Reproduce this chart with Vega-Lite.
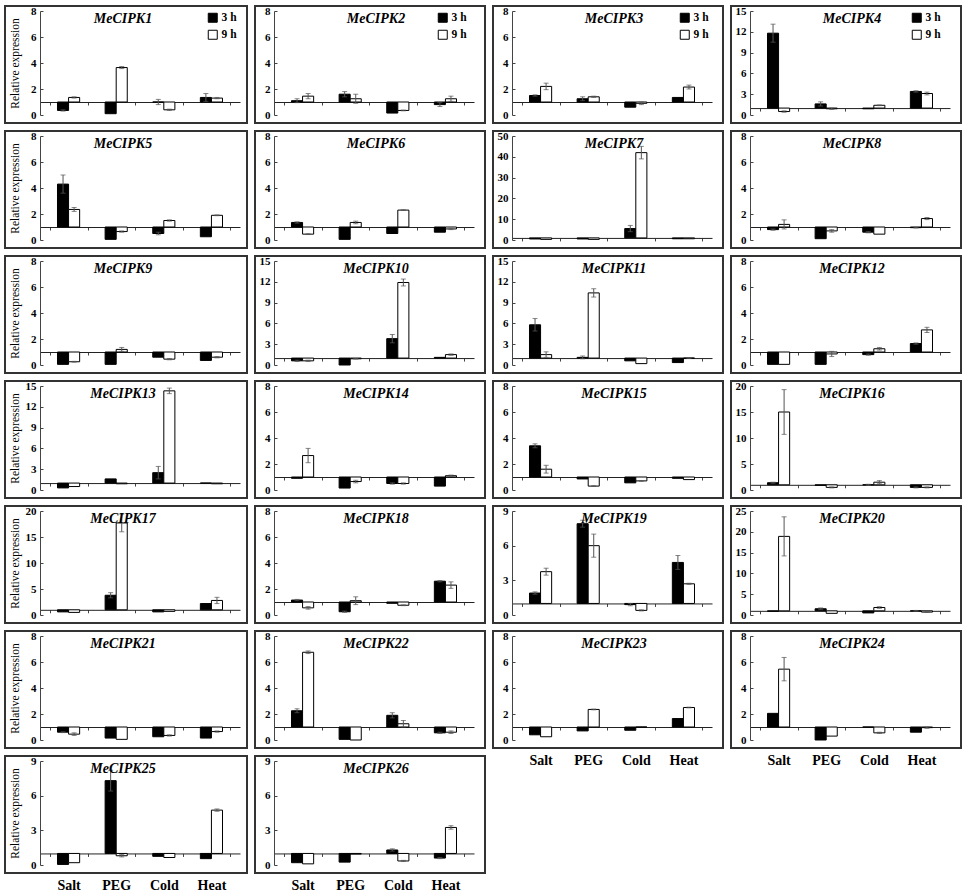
{
"$schema": "https://vega.github.io/schema/vega-lite/v6.json",
"background": "white",
"padding": {"left": 4, "top": 4, "right": 0, "bottom": 0},
"datasets": {"d": [
{"g":"MeCIPK1","t":"Salt","h":"3 h","v":0.35,"lo":0.3,"hi":0.4},
{"g":"MeCIPK1","t":"Salt","h":"9 h","v":1.35,"lo":1.3,"hi":1.4},
{"g":"MeCIPK1","t":"PEG","h":"3 h","v":0.1},
{"g":"MeCIPK1","t":"PEG","h":"9 h","v":3.65,"lo":3.57,"hi":3.73},
{"g":"MeCIPK1","t":"Cold","h":"3 h","v":1.0,"lo":0.8,"hi":1.2},
{"g":"MeCIPK1","t":"Cold","h":"9 h","v":0.4,"lo":0.35,"hi":0.45},
{"g":"MeCIPK1","t":"Heat","h":"3 h","v":1.35,"lo":1.05,"hi":1.65},
{"g":"MeCIPK1","t":"Heat","h":"9 h","v":1.3,"lo":1.25,"hi":1.35},
{"g":"MeCIPK2","t":"Salt","h":"3 h","v":1.1,"lo":0.95,"hi":1.25},
{"g":"MeCIPK2","t":"Salt","h":"9 h","v":1.45,"lo":1.25,"hi":1.65},
{"g":"MeCIPK2","t":"PEG","h":"3 h","v":1.6,"lo":1.4,"hi":1.8},
{"g":"MeCIPK2","t":"PEG","h":"9 h","v":1.25,"lo":0.9,"hi":1.6},
{"g":"MeCIPK2","t":"Cold","h":"3 h","v":0.15},
{"g":"MeCIPK2","t":"Cold","h":"9 h","v":0.35,"lo":0.32,"hi":0.38},
{"g":"MeCIPK2","t":"Heat","h":"3 h","v":0.8,"lo":0.65,"hi":0.95},
{"g":"MeCIPK2","t":"Heat","h":"9 h","v":1.25,"lo":1.05,"hi":1.45},
{"g":"MeCIPK3","t":"Salt","h":"3 h","v":1.5,"lo":1.45,"hi":1.55},
{"g":"MeCIPK3","t":"Salt","h":"9 h","v":2.2,"lo":1.95,"hi":2.45},
{"g":"MeCIPK3","t":"PEG","h":"3 h","v":1.25,"lo":1.1,"hi":1.4},
{"g":"MeCIPK3","t":"PEG","h":"9 h","v":1.4,"lo":1.35,"hi":1.45},
{"g":"MeCIPK3","t":"Cold","h":"3 h","v":0.6},
{"g":"MeCIPK3","t":"Cold","h":"9 h","v":0.9,"lo":0.8,"hi":1.0},
{"g":"MeCIPK3","t":"Heat","h":"3 h","v":1.35},
{"g":"MeCIPK3","t":"Heat","h":"9 h","v":2.15,"lo":2.0,"hi":2.3},
{"g":"MeCIPK4","t":"Salt","h":"3 h","v":11.8,"lo":10.5,"hi":13.1},
{"g":"MeCIPK4","t":"Salt","h":"9 h","v":0.5,"lo":0.4,"hi":0.6},
{"g":"MeCIPK4","t":"PEG","h":"3 h","v":1.6,"lo":1.3,"hi":1.9},
{"g":"MeCIPK4","t":"PEG","h":"9 h","v":0.9,"lo":0.8,"hi":1.0},
{"g":"MeCIPK4","t":"Cold","h":"3 h","v":0.9},
{"g":"MeCIPK4","t":"Cold","h":"9 h","v":1.4,"lo":1.35,"hi":1.45},
{"g":"MeCIPK4","t":"Heat","h":"3 h","v":3.4,"lo":3.3,"hi":3.5},
{"g":"MeCIPK4","t":"Heat","h":"9 h","v":3.1,"lo":2.9,"hi":3.3},
{"g":"MeCIPK5","t":"Salt","h":"3 h","v":4.3,"lo":3.6,"hi":5.0},
{"g":"MeCIPK5","t":"Salt","h":"9 h","v":2.35,"lo":2.2,"hi":2.5},
{"g":"MeCIPK5","t":"PEG","h":"3 h","v":0.05},
{"g":"MeCIPK5","t":"PEG","h":"9 h","v":0.65,"lo":0.6,"hi":0.7},
{"g":"MeCIPK5","t":"Cold","h":"3 h","v":0.5,"lo":0.4,"hi":0.6},
{"g":"MeCIPK5","t":"Cold","h":"9 h","v":1.5,"lo":1.45,"hi":1.55},
{"g":"MeCIPK5","t":"Heat","h":"3 h","v":0.25},
{"g":"MeCIPK5","t":"Heat","h":"9 h","v":1.9,"lo":1.87,"hi":1.93},
{"g":"MeCIPK6","t":"Salt","h":"3 h","v":1.35,"lo":1.3,"hi":1.4},
{"g":"MeCIPK6","t":"Salt","h":"9 h","v":0.45,"lo":0.42,"hi":0.48},
{"g":"MeCIPK6","t":"PEG","h":"3 h","v":0.05},
{"g":"MeCIPK6","t":"PEG","h":"9 h","v":1.35,"lo":1.25,"hi":1.45},
{"g":"MeCIPK6","t":"Cold","h":"3 h","v":0.5},
{"g":"MeCIPK6","t":"Cold","h":"9 h","v":2.3,"lo":2.27,"hi":2.33},
{"g":"MeCIPK6","t":"Heat","h":"3 h","v":0.6},
{"g":"MeCIPK6","t":"Heat","h":"9 h","v":0.85,"lo":0.8,"hi":0.9},
{"g":"MeCIPK7","t":"Salt","h":"3 h","v":0.5},
{"g":"MeCIPK7","t":"Salt","h":"9 h","v":0.3},
{"g":"MeCIPK7","t":"PEG","h":"3 h","v":0.5},
{"g":"MeCIPK7","t":"PEG","h":"9 h","v":0.3},
{"g":"MeCIPK7","t":"Cold","h":"3 h","v":5.5,"lo":4.0,"hi":7.0},
{"g":"MeCIPK7","t":"Cold","h":"9 h","v":42,"lo":39,"hi":45},
{"g":"MeCIPK7","t":"Heat","h":"3 h","v":0.6},
{"g":"MeCIPK7","t":"Heat","h":"9 h","v":0.6},
{"g":"MeCIPK8","t":"Salt","h":"3 h","v":0.8,"lo":0.75,"hi":0.85},
{"g":"MeCIPK8","t":"Salt","h":"9 h","v":1.2,"lo":0.85,"hi":1.55},
{"g":"MeCIPK8","t":"PEG","h":"3 h","v":0.1},
{"g":"MeCIPK8","t":"PEG","h":"9 h","v":0.7,"lo":0.6,"hi":0.8},
{"g":"MeCIPK8","t":"Cold","h":"3 h","v":0.6,"lo":0.55,"hi":0.65},
{"g":"MeCIPK8","t":"Cold","h":"9 h","v":0.45},
{"g":"MeCIPK8","t":"Heat","h":"3 h","v":0.95,"lo":0.92,"hi":0.98},
{"g":"MeCIPK8","t":"Heat","h":"9 h","v":1.65,"lo":1.57,"hi":1.73},
{"g":"MeCIPK9","t":"Salt","h":"3 h","v":0.05},
{"g":"MeCIPK9","t":"Salt","h":"9 h","v":0.25,"lo":0.22,"hi":0.28},
{"g":"MeCIPK9","t":"PEG","h":"3 h","v":0.05},
{"g":"MeCIPK9","t":"PEG","h":"9 h","v":1.2,"lo":1.05,"hi":1.35},
{"g":"MeCIPK9","t":"Cold","h":"3 h","v":0.6},
{"g":"MeCIPK9","t":"Cold","h":"9 h","v":0.45,"lo":0.4,"hi":0.5},
{"g":"MeCIPK9","t":"Heat","h":"3 h","v":0.35},
{"g":"MeCIPK9","t":"Heat","h":"9 h","v":0.6,"lo":0.55,"hi":0.65},
{"g":"MeCIPK10","t":"Salt","h":"3 h","v":0.6,"lo":0.5,"hi":0.7},
{"g":"MeCIPK10","t":"Salt","h":"9 h","v":0.6,"lo":0.5,"hi":0.7},
{"g":"MeCIPK10","t":"PEG","h":"3 h","v":0.0},
{"g":"MeCIPK10","t":"PEG","h":"9 h","v":0.9,"lo":0.85,"hi":0.95},
{"g":"MeCIPK10","t":"Cold","h":"3 h","v":3.8,"lo":3.2,"hi":4.4},
{"g":"MeCIPK10","t":"Cold","h":"9 h","v":11.9,"lo":11.4,"hi":12.4},
{"g":"MeCIPK10","t":"Heat","h":"3 h","v":1.1},
{"g":"MeCIPK10","t":"Heat","h":"9 h","v":1.5,"lo":1.4,"hi":1.6},
{"g":"MeCIPK11","t":"Salt","h":"3 h","v":5.8,"lo":4.9,"hi":6.7},
{"g":"MeCIPK11","t":"Salt","h":"9 h","v":1.5,"lo":1.1,"hi":1.9},
{"g":"MeCIPK11","t":"PEG","h":"3 h","v":1.1,"lo":0.9,"hi":1.3},
{"g":"MeCIPK11","t":"PEG","h":"9 h","v":10.4,"lo":9.8,"hi":11.0},
{"g":"MeCIPK11","t":"Cold","h":"3 h","v":0.6},
{"g":"MeCIPK11","t":"Cold","h":"9 h","v":0.2},
{"g":"MeCIPK11","t":"Heat","h":"3 h","v":0.35},
{"g":"MeCIPK11","t":"Heat","h":"9 h","v":1.0,"lo":0.95,"hi":1.05},
{"g":"MeCIPK12","t":"Salt","h":"3 h","v":0.05},
{"g":"MeCIPK12","t":"Salt","h":"9 h","v":0.05},
{"g":"MeCIPK12","t":"PEG","h":"3 h","v":0.05},
{"g":"MeCIPK12","t":"PEG","h":"9 h","v":0.85,"lo":0.65,"hi":1.05},
{"g":"MeCIPK12","t":"Cold","h":"3 h","v":0.8,"lo":0.75,"hi":0.85},
{"g":"MeCIPK12","t":"Cold","h":"9 h","v":1.25,"lo":1.15,"hi":1.35},
{"g":"MeCIPK12","t":"Heat","h":"3 h","v":1.65,"lo":1.6,"hi":1.7},
{"g":"MeCIPK12","t":"Heat","h":"9 h","v":2.7,"lo":2.5,"hi":2.9},
{"g":"MeCIPK13","t":"Salt","h":"3 h","v":0.3},
{"g":"MeCIPK13","t":"Salt","h":"9 h","v":0.5},
{"g":"MeCIPK13","t":"PEG","h":"3 h","v":1.6},
{"g":"MeCIPK13","t":"PEG","h":"9 h","v":0.9},
{"g":"MeCIPK13","t":"Cold","h":"3 h","v":2.5,"lo":1.6,"hi":3.4},
{"g":"MeCIPK13","t":"Cold","h":"9 h","v":14.3,"lo":13.9,"hi":14.7},
{"g":"MeCIPK13","t":"Heat","h":"3 h","v":1.0},
{"g":"MeCIPK13","t":"Heat","h":"9 h","v":0.9},
{"g":"MeCIPK14","t":"Salt","h":"3 h","v":0.9},
{"g":"MeCIPK14","t":"Salt","h":"9 h","v":2.65,"lo":2.1,"hi":3.2},
{"g":"MeCIPK14","t":"PEG","h":"3 h","v":0.15},
{"g":"MeCIPK14","t":"PEG","h":"9 h","v":0.65,"lo":0.55,"hi":0.75},
{"g":"MeCIPK14","t":"Cold","h":"3 h","v":0.5,"lo":0.45,"hi":0.55},
{"g":"MeCIPK14","t":"Cold","h":"9 h","v":0.5,"lo":0.45,"hi":0.55},
{"g":"MeCIPK14","t":"Heat","h":"3 h","v":0.3},
{"g":"MeCIPK14","t":"Heat","h":"9 h","v":1.1,"lo":1.05,"hi":1.15},
{"g":"MeCIPK15","t":"Salt","h":"3 h","v":3.4,"lo":3.25,"hi":3.55},
{"g":"MeCIPK15","t":"Salt","h":"9 h","v":1.6,"lo":1.3,"hi":1.9},
{"g":"MeCIPK15","t":"PEG","h":"3 h","v":0.85},
{"g":"MeCIPK15","t":"PEG","h":"9 h","v":0.3,"lo":0.27,"hi":0.33},
{"g":"MeCIPK15","t":"Cold","h":"3 h","v":0.55},
{"g":"MeCIPK15","t":"Cold","h":"9 h","v":0.7,"lo":0.67,"hi":0.73},
{"g":"MeCIPK15","t":"Heat","h":"3 h","v":0.9},
{"g":"MeCIPK15","t":"Heat","h":"9 h","v":0.8},
{"g":"MeCIPK16","t":"Salt","h":"3 h","v":1.4,"lo":1.3,"hi":1.5},
{"g":"MeCIPK16","t":"Salt","h":"9 h","v":15,"lo":10.7,"hi":19.3},
{"g":"MeCIPK16","t":"PEG","h":"3 h","v":0.9},
{"g":"MeCIPK16","t":"PEG","h":"9 h","v":0.5,"lo":0.4,"hi":0.6},
{"g":"MeCIPK16","t":"Cold","h":"3 h","v":1.0,"lo":0.9,"hi":1.1},
{"g":"MeCIPK16","t":"Cold","h":"9 h","v":1.5,"lo":1.2,"hi":1.8},
{"g":"MeCIPK16","t":"Heat","h":"3 h","v":0.5,"lo":0.4,"hi":0.6},
{"g":"MeCIPK16","t":"Heat","h":"9 h","v":0.5,"lo":0.4,"hi":0.6},
{"g":"MeCIPK17","t":"Salt","h":"3 h","v":0.6},
{"g":"MeCIPK17","t":"Salt","h":"9 h","v":0.5},
{"g":"MeCIPK17","t":"PEG","h":"3 h","v":3.8,"lo":3.3,"hi":4.3},
{"g":"MeCIPK17","t":"PEG","h":"9 h","v":17.7,"lo":16.0,"hi":19.4},
{"g":"MeCIPK17","t":"Cold","h":"3 h","v":0.6},
{"g":"MeCIPK17","t":"Cold","h":"9 h","v":0.7},
{"g":"MeCIPK17","t":"Heat","h":"3 h","v":2.2},
{"g":"MeCIPK17","t":"Heat","h":"9 h","v":2.8,"lo":2.2,"hi":3.4},
{"g":"MeCIPK18","t":"Salt","h":"3 h","v":1.15,"lo":1.1,"hi":1.2},
{"g":"MeCIPK18","t":"Salt","h":"9 h","v":0.55,"lo":0.45,"hi":0.65},
{"g":"MeCIPK18","t":"PEG","h":"3 h","v":0.25,"lo":0.2,"hi":0.3},
{"g":"MeCIPK18","t":"PEG","h":"9 h","v":1.1,"lo":0.8,"hi":1.4},
{"g":"MeCIPK18","t":"Cold","h":"3 h","v":0.9},
{"g":"MeCIPK18","t":"Cold","h":"9 h","v":0.75,"lo":0.72,"hi":0.78},
{"g":"MeCIPK18","t":"Heat","h":"3 h","v":2.6,"lo":2.55,"hi":2.65},
{"g":"MeCIPK18","t":"Heat","h":"9 h","v":2.3,"lo":2.05,"hi":2.55},
{"g":"MeCIPK19","t":"Salt","h":"3 h","v":1.9,"lo":1.8,"hi":2.0},
{"g":"MeCIPK19","t":"Salt","h":"9 h","v":3.75,"lo":3.45,"hi":4.05},
{"g":"MeCIPK19","t":"PEG","h":"3 h","v":7.9,"lo":7.6,"hi":8.2},
{"g":"MeCIPK19","t":"PEG","h":"9 h","v":6.0,"lo":5.0,"hi":7.0},
{"g":"MeCIPK19","t":"Cold","h":"3 h","v":0.9,"lo":0.8,"hi":1.0},
{"g":"MeCIPK19","t":"Cold","h":"9 h","v":0.4,"lo":0.35,"hi":0.45},
{"g":"MeCIPK19","t":"Heat","h":"3 h","v":4.55,"lo":3.95,"hi":5.15},
{"g":"MeCIPK19","t":"Heat","h":"9 h","v":2.7,"lo":2.65,"hi":2.75},
{"g":"MeCIPK20","t":"Salt","h":"3 h","v":0.9},
{"g":"MeCIPK20","t":"Salt","h":"9 h","v":18.9,"lo":14.2,"hi":23.6},
{"g":"MeCIPK20","t":"PEG","h":"3 h","v":1.5,"lo":1.3,"hi":1.7},
{"g":"MeCIPK20","t":"PEG","h":"9 h","v":0.4},
{"g":"MeCIPK20","t":"Cold","h":"3 h","v":0.5},
{"g":"MeCIPK20","t":"Cold","h":"9 h","v":1.8,"lo":1.6,"hi":2.0},
{"g":"MeCIPK20","t":"Heat","h":"3 h","v":1.0,"lo":0.9,"hi":1.1},
{"g":"MeCIPK20","t":"Heat","h":"9 h","v":0.7,"lo":0.6,"hi":0.8},
{"g":"MeCIPK21","t":"Salt","h":"3 h","v":0.6,"lo":0.57,"hi":0.63},
{"g":"MeCIPK21","t":"Salt","h":"9 h","v":0.45,"lo":0.35,"hi":0.55},
{"g":"MeCIPK21","t":"PEG","h":"3 h","v":0.15},
{"g":"MeCIPK21","t":"PEG","h":"9 h","v":0.05},
{"g":"MeCIPK21","t":"Cold","h":"3 h","v":0.25},
{"g":"MeCIPK21","t":"Cold","h":"9 h","v":0.35,"lo":0.3,"hi":0.4},
{"g":"MeCIPK21","t":"Heat","h":"3 h","v":0.15},
{"g":"MeCIPK21","t":"Heat","h":"9 h","v":0.65,"lo":0.6,"hi":0.7},
{"g":"MeCIPK22","t":"Salt","h":"3 h","v":2.25,"lo":2.1,"hi":2.4},
{"g":"MeCIPK22","t":"Salt","h":"9 h","v":6.75,"lo":6.65,"hi":6.85},
{"g":"MeCIPK22","t":"PEG","h":"3 h","v":0.05},
{"g":"MeCIPK22","t":"PEG","h":"9 h","v":0.0},
{"g":"MeCIPK22","t":"Cold","h":"3 h","v":1.9,"lo":1.7,"hi":2.1},
{"g":"MeCIPK22","t":"Cold","h":"9 h","v":1.25,"lo":1.0,"hi":1.5},
{"g":"MeCIPK22","t":"Heat","h":"3 h","v":0.55,"lo":0.5,"hi":0.6},
{"g":"MeCIPK22","t":"Heat","h":"9 h","v":0.6,"lo":0.5,"hi":0.7},
{"g":"MeCIPK23","t":"Salt","h":"3 h","v":0.4},
{"g":"MeCIPK23","t":"Salt","h":"9 h","v":0.25},
{"g":"MeCIPK23","t":"PEG","h":"3 h","v":0.7},
{"g":"MeCIPK23","t":"PEG","h":"9 h","v":2.35,"lo":2.32,"hi":2.38},
{"g":"MeCIPK23","t":"Cold","h":"3 h","v":0.75},
{"g":"MeCIPK23","t":"Cold","h":"9 h","v":1.0},
{"g":"MeCIPK23","t":"Heat","h":"3 h","v":1.65},
{"g":"MeCIPK23","t":"Heat","h":"9 h","v":2.5,"lo":2.47,"hi":2.53},
{"g":"MeCIPK24","t":"Salt","h":"3 h","v":2.05},
{"g":"MeCIPK24","t":"Salt","h":"9 h","v":5.45,"lo":4.55,"hi":6.35},
{"g":"MeCIPK24","t":"PEG","h":"3 h","v":0.0},
{"g":"MeCIPK24","t":"PEG","h":"9 h","v":0.3},
{"g":"MeCIPK24","t":"Cold","h":"3 h","v":1.0},
{"g":"MeCIPK24","t":"Cold","h":"9 h","v":0.55,"lo":0.5,"hi":0.6},
{"g":"MeCIPK24","t":"Heat","h":"3 h","v":0.6},
{"g":"MeCIPK24","t":"Heat","h":"9 h","v":0.95,"lo":0.9,"hi":1.0},
{"g":"MeCIPK25","t":"Salt","h":"3 h","v":0.05},
{"g":"MeCIPK25","t":"Salt","h":"9 h","v":0.2},
{"g":"MeCIPK25","t":"PEG","h":"3 h","v":7.3,"lo":6.4,"hi":8.2},
{"g":"MeCIPK25","t":"PEG","h":"9 h","v":0.8,"lo":0.7,"hi":0.9},
{"g":"MeCIPK25","t":"Cold","h":"3 h","v":0.75},
{"g":"MeCIPK25","t":"Cold","h":"9 h","v":0.65},
{"g":"MeCIPK25","t":"Heat","h":"3 h","v":0.55},
{"g":"MeCIPK25","t":"Heat","h":"9 h","v":4.75,"lo":4.65,"hi":4.85},
{"g":"MeCIPK26","t":"Salt","h":"3 h","v":0.2},
{"g":"MeCIPK26","t":"Salt","h":"9 h","v":0.1},
{"g":"MeCIPK26","t":"PEG","h":"3 h","v":0.25},
{"g":"MeCIPK26","t":"PEG","h":"9 h","v":0.95},
{"g":"MeCIPK26","t":"Cold","h":"3 h","v":1.3,"lo":1.2,"hi":1.4},
{"g":"MeCIPK26","t":"Cold","h":"9 h","v":0.35,"lo":0.3,"hi":0.4},
{"g":"MeCIPK26","t":"Heat","h":"3 h","v":0.6,"lo":0.55,"hi":0.65},
{"g":"MeCIPK26","t":"Heat","h":"9 h","v":3.25,"lo":3.1,"hi":3.4}
]},
"data": {"name": "d"},
"columns": 4,
"spacing": {"row": 8, "column": 8},
"bounds": "flush",
"align": "each",
"resolve": {"scale": {"fill": "independent"}, "legend": {"fill": "independent"}},
"concat": [
{"title":{"text":"MeCIPK1","dx":-3},"width":242,"height":117,"transform":[{"filter":"datum.g==='MeCIPK1'"}],
 "encoding":{"x":{"field":"t","type":"nominal","scale":{"domain":["Salt","PEG","Cold","Heat"],"range":[35,235]},"axis":{"title":null,"offset":-21}},
  "xOffset":{"field":"h","type":"nominal","scale":{"domain":["3 h","9 h"],"paddingInner":0,"paddingOuter":0.72}},
  "y":{"type":"quantitative","scale":{"domain":[0,8],"range":[109,5],"nice":false},"axis":{"values":[0,2,4,6,8],"offset":-35,"title":"Relative expression","titleX":-20,"titleY":57}}},
 "layer":[
  {"mark":{"type":"bar","stroke":"#000","strokeWidth":1},"encoding":{"y":{"field":"v"},"y2":{"datum":1},"fill":{"field":"h","type":"nominal","scale":{"domain":["3 h","9 h"],"range":["#000","#fff"]},"legend":{"legendX":202}}}},
  {"mark":{"type":"rule","color":"#555"},"encoding":{"y":{"field":"lo"},"y2":{"field":"hi"}}},
  {"mark":{"type":"tick","color":"#555","size":5,"thickness":1},"encoding":{"y":{"field":"lo"}}},
  {"mark":{"type":"tick","color":"#555","size":5,"thickness":1},"encoding":{"y":{"field":"hi"}}}
 ]},
{"title":"MeCIPK2","width":230,"height":117,"transform":[{"filter":"datum.g==='MeCIPK2'"}],
 "encoding":{"x":{"field":"t","type":"nominal","scale":{"domain":["Salt","PEG","Cold","Heat"],"range":[19,219]},"axis":{"title":null,"offset":-21}},
  "xOffset":{"field":"h","type":"nominal","scale":{"domain":["3 h","9 h"],"paddingInner":0,"paddingOuter":0.72}},
  "y":{"type":"quantitative","scale":{"domain":[0,8],"range":[109,5],"nice":false},"axis":{"values":[0,2,4,6,8],"offset":-19,"title":null}}},
 "layer":[
  {"mark":{"type":"bar","stroke":"#000","strokeWidth":1},"encoding":{"y":{"field":"v"},"y2":{"datum":1},"fill":{"field":"h","type":"nominal","scale":{"domain":["3 h","9 h"],"range":["#000","#fff"]},"legend":{"legendX":182}}}},
  {"mark":{"type":"rule","color":"#555"},"encoding":{"y":{"field":"lo"},"y2":{"field":"hi"}}},
  {"mark":{"type":"tick","color":"#555","size":5,"thickness":1},"encoding":{"y":{"field":"lo"}}},
  {"mark":{"type":"tick","color":"#555","size":5,"thickness":1},"encoding":{"y":{"field":"hi"}}}
 ]},
{"title":"MeCIPK3","width":230,"height":117,"transform":[{"filter":"datum.g==='MeCIPK3'"}],
 "encoding":{"x":{"field":"t","type":"nominal","scale":{"domain":["Salt","PEG","Cold","Heat"],"range":[19,219]},"axis":{"title":null,"offset":-21}},
  "xOffset":{"field":"h","type":"nominal","scale":{"domain":["3 h","9 h"],"paddingInner":0,"paddingOuter":0.72}},
  "y":{"type":"quantitative","scale":{"domain":[0,8],"range":[109,5],"nice":false},"axis":{"values":[0,2,4,6,8],"offset":-19,"title":null}}},
 "layer":[
  {"mark":{"type":"bar","stroke":"#000","strokeWidth":1},"encoding":{"y":{"field":"v"},"y2":{"datum":1},"fill":{"field":"h","type":"nominal","scale":{"domain":["3 h","9 h"],"range":["#000","#fff"]},"legend":{"legendX":186}}}},
  {"mark":{"type":"rule","color":"#555"},"encoding":{"y":{"field":"lo"},"y2":{"field":"hi"}}},
  {"mark":{"type":"tick","color":"#555","size":5,"thickness":1},"encoding":{"y":{"field":"lo"}}},
  {"mark":{"type":"tick","color":"#555","size":5,"thickness":1},"encoding":{"y":{"field":"hi"}}}
 ]},
{"title":"MeCIPK4","width":230,"height":117,"transform":[{"filter":"datum.g==='MeCIPK4'"}],
 "encoding":{"x":{"field":"t","type":"nominal","scale":{"domain":["Salt","PEG","Cold","Heat"],"range":[19,219]},"axis":{"title":null,"offset":-14.93}},
  "xOffset":{"field":"h","type":"nominal","scale":{"domain":["3 h","9 h"],"paddingInner":0,"paddingOuter":0.72}},
  "y":{"type":"quantitative","scale":{"domain":[0,15],"range":[109,5],"nice":false},"axis":{"values":[0,3,6,9,12,15],"offset":-19,"title":null}}},
 "layer":[
  {"mark":{"type":"bar","stroke":"#000","strokeWidth":1},"encoding":{"y":{"field":"v"},"y2":{"datum":1},"fill":{"field":"h","type":"nominal","scale":{"domain":["3 h","9 h"],"range":["#000","#fff"]},"legend":{"legendX":180}}}},
  {"mark":{"type":"rule","color":"#555"},"encoding":{"y":{"field":"lo"},"y2":{"field":"hi"}}},
  {"mark":{"type":"tick","color":"#555","size":5,"thickness":1},"encoding":{"y":{"field":"lo"}}},
  {"mark":{"type":"tick","color":"#555","size":5,"thickness":1},"encoding":{"y":{"field":"hi"}}}
 ]},
{"title":{"text":"MeCIPK5","dx":-3},"width":242,"height":117,"transform":[{"filter":"datum.g==='MeCIPK5'"}],
 "encoding":{"x":{"field":"t","type":"nominal","scale":{"domain":["Salt","PEG","Cold","Heat"],"range":[35,235]},"axis":{"title":null,"offset":-21}},
  "xOffset":{"field":"h","type":"nominal","scale":{"domain":["3 h","9 h"],"paddingInner":0,"paddingOuter":0.72}},
  "y":{"type":"quantitative","scale":{"domain":[0,8],"range":[109,5],"nice":false},"axis":{"values":[0,2,4,6,8],"offset":-35,"title":"Relative expression","titleX":-20,"titleY":57}}},
 "layer":[
  {"mark":{"type":"bar","stroke":"#000","strokeWidth":1},"encoding":{"y":{"field":"v"},"y2":{"datum":1},"fill":{"field":"h","type":"nominal","scale":{"domain":["3 h","9 h"],"range":["#000","#fff"]},"legend":null}}},
  {"mark":{"type":"rule","color":"#555"},"encoding":{"y":{"field":"lo"},"y2":{"field":"hi"}}},
  {"mark":{"type":"tick","color":"#555","size":5,"thickness":1},"encoding":{"y":{"field":"lo"}}},
  {"mark":{"type":"tick","color":"#555","size":5,"thickness":1},"encoding":{"y":{"field":"hi"}}}
 ]},
{"title":"MeCIPK6","width":230,"height":117,"transform":[{"filter":"datum.g==='MeCIPK6'"}],
 "encoding":{"x":{"field":"t","type":"nominal","scale":{"domain":["Salt","PEG","Cold","Heat"],"range":[19,219]},"axis":{"title":null,"offset":-21}},
  "xOffset":{"field":"h","type":"nominal","scale":{"domain":["3 h","9 h"],"paddingInner":0,"paddingOuter":0.72}},
  "y":{"type":"quantitative","scale":{"domain":[0,8],"range":[109,5],"nice":false},"axis":{"values":[0,2,4,6,8],"offset":-19,"title":null}}},
 "layer":[
  {"mark":{"type":"bar","stroke":"#000","strokeWidth":1},"encoding":{"y":{"field":"v"},"y2":{"datum":1},"fill":{"field":"h","type":"nominal","scale":{"domain":["3 h","9 h"],"range":["#000","#fff"]},"legend":null}}},
  {"mark":{"type":"rule","color":"#555"},"encoding":{"y":{"field":"lo"},"y2":{"field":"hi"}}},
  {"mark":{"type":"tick","color":"#555","size":5,"thickness":1},"encoding":{"y":{"field":"lo"}}},
  {"mark":{"type":"tick","color":"#555","size":5,"thickness":1},"encoding":{"y":{"field":"hi"}}}
 ]},
{"title":"MeCIPK7","width":230,"height":117,"transform":[{"filter":"datum.g==='MeCIPK7'"}],
 "encoding":{"x":{"field":"t","type":"nominal","scale":{"domain":["Salt","PEG","Cold","Heat"],"range":[19,219]},"axis":{"title":null,"offset":-10.08}},
  "xOffset":{"field":"h","type":"nominal","scale":{"domain":["3 h","9 h"],"paddingInner":0,"paddingOuter":0.72}},
  "y":{"type":"quantitative","scale":{"domain":[0,50],"range":[109,5],"nice":false},"axis":{"values":[0,10,20,30,40,50],"offset":-19,"title":null}}},
 "layer":[
  {"mark":{"type":"bar","stroke":"#000","strokeWidth":1},"encoding":{"y":{"field":"v"},"y2":{"datum":1},"fill":{"field":"h","type":"nominal","scale":{"domain":["3 h","9 h"],"range":["#000","#fff"]},"legend":null}}},
  {"mark":{"type":"rule","color":"#555"},"encoding":{"y":{"field":"lo"},"y2":{"field":"hi"}}},
  {"mark":{"type":"tick","color":"#555","size":5,"thickness":1},"encoding":{"y":{"field":"lo"}}},
  {"mark":{"type":"tick","color":"#555","size":5,"thickness":1},"encoding":{"y":{"field":"hi"}}}
 ]},
{"title":"MeCIPK8","width":230,"height":117,"transform":[{"filter":"datum.g==='MeCIPK8'"}],
 "encoding":{"x":{"field":"t","type":"nominal","scale":{"domain":["Salt","PEG","Cold","Heat"],"range":[19,219]},"axis":{"title":null,"offset":-21}},
  "xOffset":{"field":"h","type":"nominal","scale":{"domain":["3 h","9 h"],"paddingInner":0,"paddingOuter":0.72}},
  "y":{"type":"quantitative","scale":{"domain":[0,8],"range":[109,5],"nice":false},"axis":{"values":[0,2,4,6,8],"offset":-19,"title":null}}},
 "layer":[
  {"mark":{"type":"bar","stroke":"#000","strokeWidth":1},"encoding":{"y":{"field":"v"},"y2":{"datum":1},"fill":{"field":"h","type":"nominal","scale":{"domain":["3 h","9 h"],"range":["#000","#fff"]},"legend":null}}},
  {"mark":{"type":"rule","color":"#555"},"encoding":{"y":{"field":"lo"},"y2":{"field":"hi"}}},
  {"mark":{"type":"tick","color":"#555","size":5,"thickness":1},"encoding":{"y":{"field":"lo"}}},
  {"mark":{"type":"tick","color":"#555","size":5,"thickness":1},"encoding":{"y":{"field":"hi"}}}
 ]},
{"title":{"text":"MeCIPK9","dx":-3},"width":242,"height":117,"transform":[{"filter":"datum.g==='MeCIPK9'"}],
 "encoding":{"x":{"field":"t","type":"nominal","scale":{"domain":["Salt","PEG","Cold","Heat"],"range":[35,235]},"axis":{"title":null,"offset":-21}},
  "xOffset":{"field":"h","type":"nominal","scale":{"domain":["3 h","9 h"],"paddingInner":0,"paddingOuter":0.72}},
  "y":{"type":"quantitative","scale":{"domain":[0,8],"range":[109,5],"nice":false},"axis":{"values":[0,2,4,6,8],"offset":-35,"title":"Relative expression","titleX":-20,"titleY":57}}},
 "layer":[
  {"mark":{"type":"bar","stroke":"#000","strokeWidth":1},"encoding":{"y":{"field":"v"},"y2":{"datum":1},"fill":{"field":"h","type":"nominal","scale":{"domain":["3 h","9 h"],"range":["#000","#fff"]},"legend":null}}},
  {"mark":{"type":"rule","color":"#555"},"encoding":{"y":{"field":"lo"},"y2":{"field":"hi"}}},
  {"mark":{"type":"tick","color":"#555","size":5,"thickness":1},"encoding":{"y":{"field":"lo"}}},
  {"mark":{"type":"tick","color":"#555","size":5,"thickness":1},"encoding":{"y":{"field":"hi"}}}
 ]},
{"title":"MeCIPK10","width":230,"height":117,"transform":[{"filter":"datum.g==='MeCIPK10'"}],
 "encoding":{"x":{"field":"t","type":"nominal","scale":{"domain":["Salt","PEG","Cold","Heat"],"range":[19,219]},"axis":{"title":null,"offset":-14.93}},
  "xOffset":{"field":"h","type":"nominal","scale":{"domain":["3 h","9 h"],"paddingInner":0,"paddingOuter":0.72}},
  "y":{"type":"quantitative","scale":{"domain":[0,15],"range":[109,5],"nice":false},"axis":{"values":[0,3,6,9,12,15],"offset":-19,"title":null}}},
 "layer":[
  {"mark":{"type":"bar","stroke":"#000","strokeWidth":1},"encoding":{"y":{"field":"v"},"y2":{"datum":1},"fill":{"field":"h","type":"nominal","scale":{"domain":["3 h","9 h"],"range":["#000","#fff"]},"legend":null}}},
  {"mark":{"type":"rule","color":"#555"},"encoding":{"y":{"field":"lo"},"y2":{"field":"hi"}}},
  {"mark":{"type":"tick","color":"#555","size":5,"thickness":1},"encoding":{"y":{"field":"lo"}}},
  {"mark":{"type":"tick","color":"#555","size":5,"thickness":1},"encoding":{"y":{"field":"hi"}}}
 ]},
{"title":"MeCIPK11","width":230,"height":117,"transform":[{"filter":"datum.g==='MeCIPK11'"}],
 "encoding":{"x":{"field":"t","type":"nominal","scale":{"domain":["Salt","PEG","Cold","Heat"],"range":[19,219]},"axis":{"title":null,"offset":-14.93}},
  "xOffset":{"field":"h","type":"nominal","scale":{"domain":["3 h","9 h"],"paddingInner":0,"paddingOuter":0.72}},
  "y":{"type":"quantitative","scale":{"domain":[0,15],"range":[109,5],"nice":false},"axis":{"values":[0,3,6,9,12,15],"offset":-19,"title":null}}},
 "layer":[
  {"mark":{"type":"bar","stroke":"#000","strokeWidth":1},"encoding":{"y":{"field":"v"},"y2":{"datum":1},"fill":{"field":"h","type":"nominal","scale":{"domain":["3 h","9 h"],"range":["#000","#fff"]},"legend":null}}},
  {"mark":{"type":"rule","color":"#555"},"encoding":{"y":{"field":"lo"},"y2":{"field":"hi"}}},
  {"mark":{"type":"tick","color":"#555","size":5,"thickness":1},"encoding":{"y":{"field":"lo"}}},
  {"mark":{"type":"tick","color":"#555","size":5,"thickness":1},"encoding":{"y":{"field":"hi"}}}
 ]},
{"title":"MeCIPK12","width":230,"height":117,"transform":[{"filter":"datum.g==='MeCIPK12'"}],
 "encoding":{"x":{"field":"t","type":"nominal","scale":{"domain":["Salt","PEG","Cold","Heat"],"range":[19,219]},"axis":{"title":null,"offset":-21}},
  "xOffset":{"field":"h","type":"nominal","scale":{"domain":["3 h","9 h"],"paddingInner":0,"paddingOuter":0.72}},
  "y":{"type":"quantitative","scale":{"domain":[0,8],"range":[109,5],"nice":false},"axis":{"values":[0,2,4,6,8],"offset":-19,"title":null}}},
 "layer":[
  {"mark":{"type":"bar","stroke":"#000","strokeWidth":1},"encoding":{"y":{"field":"v"},"y2":{"datum":1},"fill":{"field":"h","type":"nominal","scale":{"domain":["3 h","9 h"],"range":["#000","#fff"]},"legend":null}}},
  {"mark":{"type":"rule","color":"#555"},"encoding":{"y":{"field":"lo"},"y2":{"field":"hi"}}},
  {"mark":{"type":"tick","color":"#555","size":5,"thickness":1},"encoding":{"y":{"field":"lo"}}},
  {"mark":{"type":"tick","color":"#555","size":5,"thickness":1},"encoding":{"y":{"field":"hi"}}}
 ]},
{"title":{"text":"MeCIPK13","dx":-3},"width":242,"height":117,"transform":[{"filter":"datum.g==='MeCIPK13'"}],
 "encoding":{"x":{"field":"t","type":"nominal","scale":{"domain":["Salt","PEG","Cold","Heat"],"range":[35,235]},"axis":{"title":null,"offset":-14.93}},
  "xOffset":{"field":"h","type":"nominal","scale":{"domain":["3 h","9 h"],"paddingInner":0,"paddingOuter":0.72}},
  "y":{"type":"quantitative","scale":{"domain":[0,15],"range":[109,5],"nice":false},"axis":{"values":[0,3,6,9,12,15],"offset":-35,"title":"Relative expression","titleX":-20,"titleY":57}}},
 "layer":[
  {"mark":{"type":"bar","stroke":"#000","strokeWidth":1},"encoding":{"y":{"field":"v"},"y2":{"datum":1},"fill":{"field":"h","type":"nominal","scale":{"domain":["3 h","9 h"],"range":["#000","#fff"]},"legend":null}}},
  {"mark":{"type":"rule","color":"#555"},"encoding":{"y":{"field":"lo"},"y2":{"field":"hi"}}},
  {"mark":{"type":"tick","color":"#555","size":5,"thickness":1},"encoding":{"y":{"field":"lo"}}},
  {"mark":{"type":"tick","color":"#555","size":5,"thickness":1},"encoding":{"y":{"field":"hi"}}}
 ]},
{"title":"MeCIPK14","width":230,"height":117,"transform":[{"filter":"datum.g==='MeCIPK14'"}],
 "encoding":{"x":{"field":"t","type":"nominal","scale":{"domain":["Salt","PEG","Cold","Heat"],"range":[19,219]},"axis":{"title":null,"offset":-21}},
  "xOffset":{"field":"h","type":"nominal","scale":{"domain":["3 h","9 h"],"paddingInner":0,"paddingOuter":0.72}},
  "y":{"type":"quantitative","scale":{"domain":[0,8],"range":[109,5],"nice":false},"axis":{"values":[0,2,4,6,8],"offset":-19,"title":null}}},
 "layer":[
  {"mark":{"type":"bar","stroke":"#000","strokeWidth":1},"encoding":{"y":{"field":"v"},"y2":{"datum":1},"fill":{"field":"h","type":"nominal","scale":{"domain":["3 h","9 h"],"range":["#000","#fff"]},"legend":null}}},
  {"mark":{"type":"rule","color":"#555"},"encoding":{"y":{"field":"lo"},"y2":{"field":"hi"}}},
  {"mark":{"type":"tick","color":"#555","size":5,"thickness":1},"encoding":{"y":{"field":"lo"}}},
  {"mark":{"type":"tick","color":"#555","size":5,"thickness":1},"encoding":{"y":{"field":"hi"}}}
 ]},
{"title":"MeCIPK15","width":230,"height":117,"transform":[{"filter":"datum.g==='MeCIPK15'"}],
 "encoding":{"x":{"field":"t","type":"nominal","scale":{"domain":["Salt","PEG","Cold","Heat"],"range":[19,219]},"axis":{"title":null,"offset":-21}},
  "xOffset":{"field":"h","type":"nominal","scale":{"domain":["3 h","9 h"],"paddingInner":0,"paddingOuter":0.72}},
  "y":{"type":"quantitative","scale":{"domain":[0,8],"range":[109,5],"nice":false},"axis":{"values":[0,2,4,6,8],"offset":-19,"title":null}}},
 "layer":[
  {"mark":{"type":"bar","stroke":"#000","strokeWidth":1},"encoding":{"y":{"field":"v"},"y2":{"datum":1},"fill":{"field":"h","type":"nominal","scale":{"domain":["3 h","9 h"],"range":["#000","#fff"]},"legend":null}}},
  {"mark":{"type":"rule","color":"#555"},"encoding":{"y":{"field":"lo"},"y2":{"field":"hi"}}},
  {"mark":{"type":"tick","color":"#555","size":5,"thickness":1},"encoding":{"y":{"field":"lo"}}},
  {"mark":{"type":"tick","color":"#555","size":5,"thickness":1},"encoding":{"y":{"field":"hi"}}}
 ]},
{"title":"MeCIPK16","width":230,"height":117,"transform":[{"filter":"datum.g==='MeCIPK16'"}],
 "encoding":{"x":{"field":"t","type":"nominal","scale":{"domain":["Salt","PEG","Cold","Heat"],"range":[19,219]},"axis":{"title":null,"offset":-13.2}},
  "xOffset":{"field":"h","type":"nominal","scale":{"domain":["3 h","9 h"],"paddingInner":0,"paddingOuter":0.72}},
  "y":{"type":"quantitative","scale":{"domain":[0,20],"range":[109,5],"nice":false},"axis":{"values":[0,5,10,15,20],"offset":-19,"title":null}}},
 "layer":[
  {"mark":{"type":"bar","stroke":"#000","strokeWidth":1},"encoding":{"y":{"field":"v"},"y2":{"datum":1},"fill":{"field":"h","type":"nominal","scale":{"domain":["3 h","9 h"],"range":["#000","#fff"]},"legend":null}}},
  {"mark":{"type":"rule","color":"#555"},"encoding":{"y":{"field":"lo"},"y2":{"field":"hi"}}},
  {"mark":{"type":"tick","color":"#555","size":5,"thickness":1},"encoding":{"y":{"field":"lo"}}},
  {"mark":{"type":"tick","color":"#555","size":5,"thickness":1},"encoding":{"y":{"field":"hi"}}}
 ]},
{"title":{"text":"MeCIPK17","dx":-3},"width":242,"height":117,"transform":[{"filter":"datum.g==='MeCIPK17'"}],
 "encoding":{"x":{"field":"t","type":"nominal","scale":{"domain":["Salt","PEG","Cold","Heat"],"range":[35,235]},"axis":{"title":null,"offset":-13.2}},
  "xOffset":{"field":"h","type":"nominal","scale":{"domain":["3 h","9 h"],"paddingInner":0,"paddingOuter":0.72}},
  "y":{"type":"quantitative","scale":{"domain":[0,20],"range":[109,5],"nice":false},"axis":{"values":[0,5,10,15,20],"offset":-35,"title":"Relative expression","titleX":-20,"titleY":57}}},
 "layer":[
  {"mark":{"type":"bar","stroke":"#000","strokeWidth":1},"encoding":{"y":{"field":"v"},"y2":{"datum":1},"fill":{"field":"h","type":"nominal","scale":{"domain":["3 h","9 h"],"range":["#000","#fff"]},"legend":null}}},
  {"mark":{"type":"rule","color":"#555"},"encoding":{"y":{"field":"lo"},"y2":{"field":"hi"}}},
  {"mark":{"type":"tick","color":"#555","size":5,"thickness":1},"encoding":{"y":{"field":"lo"}}},
  {"mark":{"type":"tick","color":"#555","size":5,"thickness":1},"encoding":{"y":{"field":"hi"}}}
 ]},
{"title":"MeCIPK18","width":230,"height":117,"transform":[{"filter":"datum.g==='MeCIPK18'"}],
 "encoding":{"x":{"field":"t","type":"nominal","scale":{"domain":["Salt","PEG","Cold","Heat"],"range":[19,219]},"axis":{"title":null,"offset":-21}},
  "xOffset":{"field":"h","type":"nominal","scale":{"domain":["3 h","9 h"],"paddingInner":0,"paddingOuter":0.72}},
  "y":{"type":"quantitative","scale":{"domain":[0,8],"range":[109,5],"nice":false},"axis":{"values":[0,2,4,6,8],"offset":-19,"title":null}}},
 "layer":[
  {"mark":{"type":"bar","stroke":"#000","strokeWidth":1},"encoding":{"y":{"field":"v"},"y2":{"datum":1},"fill":{"field":"h","type":"nominal","scale":{"domain":["3 h","9 h"],"range":["#000","#fff"]},"legend":null}}},
  {"mark":{"type":"rule","color":"#555"},"encoding":{"y":{"field":"lo"},"y2":{"field":"hi"}}},
  {"mark":{"type":"tick","color":"#555","size":5,"thickness":1},"encoding":{"y":{"field":"lo"}}},
  {"mark":{"type":"tick","color":"#555","size":5,"thickness":1},"encoding":{"y":{"field":"hi"}}}
 ]},
{"title":"MeCIPK19","width":230,"height":117,"transform":[{"filter":"datum.g==='MeCIPK19'"}],
 "encoding":{"x":{"field":"t","type":"nominal","scale":{"domain":["Salt","PEG","Cold","Heat"],"range":[19,219]},"axis":{"title":null,"offset":-19.56}},
  "xOffset":{"field":"h","type":"nominal","scale":{"domain":["3 h","9 h"],"paddingInner":0,"paddingOuter":0.72}},
  "y":{"type":"quantitative","scale":{"domain":[0,9],"range":[109,5],"nice":false},"axis":{"values":[0,3,6,9],"offset":-19,"title":null}}},
 "layer":[
  {"mark":{"type":"bar","stroke":"#000","strokeWidth":1},"encoding":{"y":{"field":"v"},"y2":{"datum":1},"fill":{"field":"h","type":"nominal","scale":{"domain":["3 h","9 h"],"range":["#000","#fff"]},"legend":null}}},
  {"mark":{"type":"rule","color":"#555"},"encoding":{"y":{"field":"lo"},"y2":{"field":"hi"}}},
  {"mark":{"type":"tick","color":"#555","size":5,"thickness":1},"encoding":{"y":{"field":"lo"}}},
  {"mark":{"type":"tick","color":"#555","size":5,"thickness":1},"encoding":{"y":{"field":"hi"}}}
 ]},
{"title":"MeCIPK20","width":230,"height":117,"transform":[{"filter":"datum.g==='MeCIPK20'"}],
 "encoding":{"x":{"field":"t","type":"nominal","scale":{"domain":["Salt","PEG","Cold","Heat"],"range":[19,219]},"axis":{"title":null,"offset":-12.16}},
  "xOffset":{"field":"h","type":"nominal","scale":{"domain":["3 h","9 h"],"paddingInner":0,"paddingOuter":0.72}},
  "y":{"type":"quantitative","scale":{"domain":[0,25],"range":[109,5],"nice":false},"axis":{"values":[0,5,10,15,20,25],"offset":-19,"title":null}}},
 "layer":[
  {"mark":{"type":"bar","stroke":"#000","strokeWidth":1},"encoding":{"y":{"field":"v"},"y2":{"datum":1},"fill":{"field":"h","type":"nominal","scale":{"domain":["3 h","9 h"],"range":["#000","#fff"]},"legend":null}}},
  {"mark":{"type":"rule","color":"#555"},"encoding":{"y":{"field":"lo"},"y2":{"field":"hi"}}},
  {"mark":{"type":"tick","color":"#555","size":5,"thickness":1},"encoding":{"y":{"field":"lo"}}},
  {"mark":{"type":"tick","color":"#555","size":5,"thickness":1},"encoding":{"y":{"field":"hi"}}}
 ]},
{"title":{"text":"MeCIPK21","dx":-3},"width":242,"height":117,"transform":[{"filter":"datum.g==='MeCIPK21'"}],
 "encoding":{"x":{"field":"t","type":"nominal","scale":{"domain":["Salt","PEG","Cold","Heat"],"range":[35,235]},"axis":{"title":null,"offset":-21}},
  "xOffset":{"field":"h","type":"nominal","scale":{"domain":["3 h","9 h"],"paddingInner":0,"paddingOuter":0.72}},
  "y":{"type":"quantitative","scale":{"domain":[0,8],"range":[109,5],"nice":false},"axis":{"values":[0,2,4,6,8],"offset":-35,"title":"Relative expression","titleX":-20,"titleY":57}}},
 "layer":[
  {"mark":{"type":"bar","stroke":"#000","strokeWidth":1},"encoding":{"y":{"field":"v"},"y2":{"datum":1},"fill":{"field":"h","type":"nominal","scale":{"domain":["3 h","9 h"],"range":["#000","#fff"]},"legend":null}}},
  {"mark":{"type":"rule","color":"#555"},"encoding":{"y":{"field":"lo"},"y2":{"field":"hi"}}},
  {"mark":{"type":"tick","color":"#555","size":5,"thickness":1},"encoding":{"y":{"field":"lo"}}},
  {"mark":{"type":"tick","color":"#555","size":5,"thickness":1},"encoding":{"y":{"field":"hi"}}}
 ]},
{"title":"MeCIPK22","width":230,"height":117,"transform":[{"filter":"datum.g==='MeCIPK22'"}],
 "encoding":{"x":{"field":"t","type":"nominal","scale":{"domain":["Salt","PEG","Cold","Heat"],"range":[19,219]},"axis":{"title":null,"offset":-21}},
  "xOffset":{"field":"h","type":"nominal","scale":{"domain":["3 h","9 h"],"paddingInner":0,"paddingOuter":0.72}},
  "y":{"type":"quantitative","scale":{"domain":[0,8],"range":[109,5],"nice":false},"axis":{"values":[0,2,4,6,8],"offset":-19,"title":null}}},
 "layer":[
  {"mark":{"type":"bar","stroke":"#000","strokeWidth":1},"encoding":{"y":{"field":"v"},"y2":{"datum":1},"fill":{"field":"h","type":"nominal","scale":{"domain":["3 h","9 h"],"range":["#000","#fff"]},"legend":null}}},
  {"mark":{"type":"rule","color":"#555"},"encoding":{"y":{"field":"lo"},"y2":{"field":"hi"}}},
  {"mark":{"type":"tick","color":"#555","size":5,"thickness":1},"encoding":{"y":{"field":"lo"}}},
  {"mark":{"type":"tick","color":"#555","size":5,"thickness":1},"encoding":{"y":{"field":"hi"}}}
 ]},
{"title":"MeCIPK23","width":230,"height":117,"transform":[{"filter":"datum.g==='MeCIPK23'"}],
 "encoding":{"x":{"field":"t","type":"nominal","scale":{"domain":["Salt","PEG","Cold","Heat"],"range":[19,219]},"axis":{"title":null,"offset":-21,"labels":true,"labelPadding":23}},
  "xOffset":{"field":"h","type":"nominal","scale":{"domain":["3 h","9 h"],"paddingInner":0,"paddingOuter":0.72}},
  "y":{"type":"quantitative","scale":{"domain":[0,8],"range":[109,5],"nice":false},"axis":{"values":[0,2,4,6,8],"offset":-19,"title":null}}},
 "layer":[
  {"mark":{"type":"bar","stroke":"#000","strokeWidth":1},"encoding":{"y":{"field":"v"},"y2":{"datum":1},"fill":{"field":"h","type":"nominal","scale":{"domain":["3 h","9 h"],"range":["#000","#fff"]},"legend":null}}},
  {"mark":{"type":"rule","color":"#555"},"encoding":{"y":{"field":"lo"},"y2":{"field":"hi"}}},
  {"mark":{"type":"tick","color":"#555","size":5,"thickness":1},"encoding":{"y":{"field":"lo"}}},
  {"mark":{"type":"tick","color":"#555","size":5,"thickness":1},"encoding":{"y":{"field":"hi"}}}
 ]},
{"title":"MeCIPK24","width":230,"height":117,"transform":[{"filter":"datum.g==='MeCIPK24'"}],
 "encoding":{"x":{"field":"t","type":"nominal","scale":{"domain":["Salt","PEG","Cold","Heat"],"range":[19,219]},"axis":{"title":null,"offset":-21,"labels":true,"labelPadding":23}},
  "xOffset":{"field":"h","type":"nominal","scale":{"domain":["3 h","9 h"],"paddingInner":0,"paddingOuter":0.72}},
  "y":{"type":"quantitative","scale":{"domain":[0,8],"range":[109,5],"nice":false},"axis":{"values":[0,2,4,6,8],"offset":-19,"title":null}}},
 "layer":[
  {"mark":{"type":"bar","stroke":"#000","strokeWidth":1},"encoding":{"y":{"field":"v"},"y2":{"datum":1},"fill":{"field":"h","type":"nominal","scale":{"domain":["3 h","9 h"],"range":["#000","#fff"]},"legend":null}}},
  {"mark":{"type":"rule","color":"#555"},"encoding":{"y":{"field":"lo"},"y2":{"field":"hi"}}},
  {"mark":{"type":"tick","color":"#555","size":5,"thickness":1},"encoding":{"y":{"field":"lo"}}},
  {"mark":{"type":"tick","color":"#555","size":5,"thickness":1},"encoding":{"y":{"field":"hi"}}}
 ]},
{"title":{"text":"MeCIPK25","dx":-3},"width":242,"height":117,"transform":[{"filter":"datum.g==='MeCIPK25'"}],
 "encoding":{"x":{"field":"t","type":"nominal","scale":{"domain":["Salt","PEG","Cold","Heat"],"range":[35,235]},"axis":{"title":null,"offset":-19.56,"labels":true,"labelPadding":21.6}},
  "xOffset":{"field":"h","type":"nominal","scale":{"domain":["3 h","9 h"],"paddingInner":0,"paddingOuter":0.72}},
  "y":{"type":"quantitative","scale":{"domain":[0,9],"range":[109,5],"nice":false},"axis":{"values":[0,3,6,9],"offset":-35,"title":"Relative expression","titleX":-20,"titleY":57}}},
 "layer":[
  {"mark":{"type":"bar","stroke":"#000","strokeWidth":1},"encoding":{"y":{"field":"v"},"y2":{"datum":1},"fill":{"field":"h","type":"nominal","scale":{"domain":["3 h","9 h"],"range":["#000","#fff"]},"legend":null}}},
  {"mark":{"type":"rule","color":"#555"},"encoding":{"y":{"field":"lo"},"y2":{"field":"hi"}}},
  {"mark":{"type":"tick","color":"#555","size":5,"thickness":1},"encoding":{"y":{"field":"lo"}}},
  {"mark":{"type":"tick","color":"#555","size":5,"thickness":1},"encoding":{"y":{"field":"hi"}}}
 ]},
{"title":"MeCIPK26","width":230,"height":117,"transform":[{"filter":"datum.g==='MeCIPK26'"}],
 "encoding":{"x":{"field":"t","type":"nominal","scale":{"domain":["Salt","PEG","Cold","Heat"],"range":[19,219]},"axis":{"title":null,"offset":-19.56,"labels":true,"labelPadding":21.6}},
  "xOffset":{"field":"h","type":"nominal","scale":{"domain":["3 h","9 h"],"paddingInner":0,"paddingOuter":0.72}},
  "y":{"type":"quantitative","scale":{"domain":[0,9],"range":[109,5],"nice":false},"axis":{"values":[0,3,6,9],"offset":-19,"title":null}}},
 "layer":[
  {"mark":{"type":"bar","stroke":"#000","strokeWidth":1},"encoding":{"y":{"field":"v"},"y2":{"datum":1},"fill":{"field":"h","type":"nominal","scale":{"domain":["3 h","9 h"],"range":["#000","#fff"]},"legend":null}}},
  {"mark":{"type":"rule","color":"#555"},"encoding":{"y":{"field":"lo"},"y2":{"field":"hi"}}},
  {"mark":{"type":"tick","color":"#555","size":5,"thickness":1},"encoding":{"y":{"field":"lo"}}},
  {"mark":{"type":"tick","color":"#555","size":5,"thickness":1},"encoding":{"y":{"field":"hi"}}}
 ]}
],
"config": {
 "font": "Liberation Serif",
 "view": {"stroke": "#333", "strokeWidth": 2},
 "scale": {"bandPaddingInner": 0, "bandPaddingOuter": 0},
 "title": {"font": "Liberation Serif", "fontSize": 14, "fontStyle": "italic", "fontWeight": "bold", "color": "#000", "offset": -21, "anchor": "middle", "frame": "group", "dx": 6},
 "axis": {"grid": false, "labelFont": "Liberation Serif", "labelFontWeight": "bold", "labelFontSize": 11, "labelColor": "#000", "domainColor": "#444", "tickColor": "#444", "titleFont": "Liberation Serif", "titleFontWeight": "normal", "titleFontSize": 11.5, "titleColor": "#000"},
 "axisY": {"tickSize": -3, "labelPadding": 7},
 "axisX": {"tickBand": "extent", "tickSize": 3, "labels": false, "labelAngle": 0, "labelFontSize": 14, "domainColor": "#222"},
 "legend": {"orient": "none", "legendY": 6, "title": null, "symbolType": "square", "symbolSize": 81, "symbolStrokeColor": "#000", "symbolStrokeWidth": 1, "labelFont": "Liberation Serif", "labelFontWeight": "bold", "labelFontSize": 11.5, "labelColor": "#000", "rowPadding": 3, "labelOffset": 3}
}
}
